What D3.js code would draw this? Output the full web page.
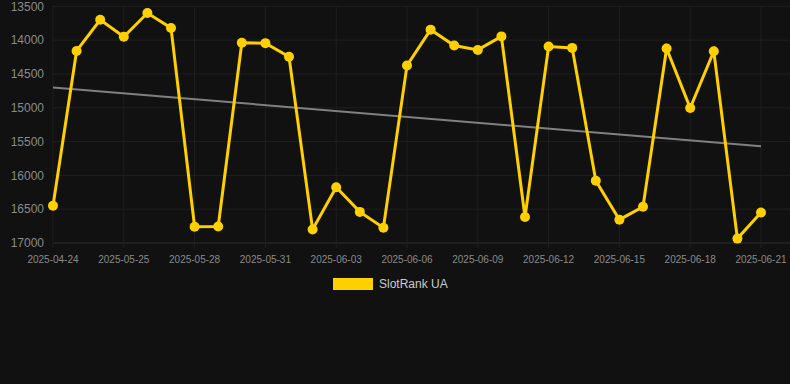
<!DOCTYPE html>
<html>
<head>
<meta charset="utf-8">
<script src="https://cdn.jsdelivr.net/npm/d3@7"></script>
<style>
  html, body { margin: 0; padding: 0; background: #111111; }
  svg { display: block; font-family: "Liberation Sans", Arial, sans-serif; }
</style>
</head>
<body>
<div id="chart"></div>
<script>
// categories (one point per day, first one is an older reading)
var dates = ["2025-04-24",
  "2025-05-23", "2025-05-24", "2025-05-25", "2025-05-26", "2025-05-27", "2025-05-28",
  "2025-05-29", "2025-05-30", "2025-05-31", "2025-06-01", "2025-06-02", "2025-06-03",
  "2025-06-04", "2025-06-05", "2025-06-06", "2025-06-07", "2025-06-08", "2025-06-09",
  "2025-06-10", "2025-06-11", "2025-06-12", "2025-06-13", "2025-06-14", "2025-06-15",
  "2025-06-16", "2025-06-17", "2025-06-18", "2025-06-19", "2025-06-20", "2025-06-21"];

var rankValues = [16450,
  14160, 13700, 13950, 13600, 13820, 16760,
  16755, 14040, 14045, 14245, 16800, 16175,
  16540, 16775, 14375, 13845, 14080, 14145,
  13945, 16615, 14095, 14115, 16080, 16655,
  16465, 14125, 15005, 14165, 16935, 16550];

// trend line, start and end values
var trendValues = [14700, 15570];

var yTicks = [13500, 14000, 14500, 15000, 15500, 16000, 16500, 17000];
var seriesName = "SlotRank UA";

var width = 790, height = 384;
var plotLeft = 53, plotRight = 761, gridRight = 790, plotTop = 6.3, plotBottom = 243;
var gold = "#ffd000";

var svg = d3.select("#chart").append("svg")
  .attr("width", width)
  .attr("height", height);

svg.append("rect")
  .attr("width", width)
  .attr("height", height)
  .style("fill", "#111111");

var x = d3.scalePoint().domain(dates).range([plotLeft, plotRight]);
var y = d3.scaleLinear().domain([13500, 17000]).range([plotTop, plotBottom]);

// grid
svg.append("g").selectAll("line").data(yTicks).enter().append("line")
  .attr("x1", plotLeft).attr("x2", gridRight)
  .attr("y1", function(d) { return y(d); })
  .attr("y2", function(d) { return y(d); })
  .style("stroke", function(d) { return d === 17000 ? "#2e2e2e" : "#1f1f1f"; })
  .style("stroke-width", 1);

var labelled = dates.filter(function(d, i) { return i % 3 === 0; });

svg.append("g").selectAll("line").data(labelled).enter().append("line")
  .attr("x1", function(d) { return x(d); })
  .attr("x2", function(d) { return x(d); })
  .attr("y1", plotTop).attr("y2", plotBottom + 5)
  .style("stroke", "#1f1f1f")
  .style("stroke-width", 1);

// y labels
svg.append("g").selectAll("text").data(yTicks).enter().append("text")
  .attr("x", 44)
  .attr("y", function(d) { return y(d); })
  .attr("dy", "0.35em")
  .attr("text-anchor", "end")
  .style("font-size", "12px")
  .style("fill", "#8a8a8a")
  .text(function(d) { return d; });

// x labels
svg.append("g").selectAll("text").data(labelled).enter().append("text")
  .attr("x", function(d) { return x(d); })
  .attr("y", 259)
  .attr("dy", "0.35em")
  .attr("text-anchor", "middle")
  .style("font-size", "10px")
  .style("fill", "#8a8a8a")
  .text(function(d) { return d; });

// trend line
svg.append("line")
  .attr("x1", x(dates[0]))
  .attr("x2", x(dates[dates.length - 1]))
  .attr("y1", y(trendValues[0]))
  .attr("y2", y(trendValues[1]))
  .style("stroke", "#808080")
  .style("stroke-width", 2);

// series
var line = d3.line()
  .x(function(d, i) { return x(dates[i]); })
  .y(function(d) { return y(d); });

svg.append("path")
  .datum(rankValues)
  .attr("d", line)
  .style("fill", "none")
  .style("stroke", gold)
  .style("stroke-width", 3)
  .style("stroke-linejoin", "miter");

svg.append("g").selectAll("circle").data(rankValues).enter().append("circle")
  .attr("cx", function(d, i) { return x(dates[i]); })
  .attr("cy", function(d) { return y(d); })
  .attr("r", 5)
  .style("fill", gold);

// legend
svg.append("rect")
  .attr("x", 333).attr("y", 278)
  .attr("width", 40).attr("height", 12)
  .style("fill", gold);

svg.append("text")
  .attr("x", 379).attr("y", 284)
  .attr("dy", "0.35em")
  .style("font-size", "12px")
  .style("fill", "#cccccc")
  .text(seriesName);
</script>
</body>
</html>
